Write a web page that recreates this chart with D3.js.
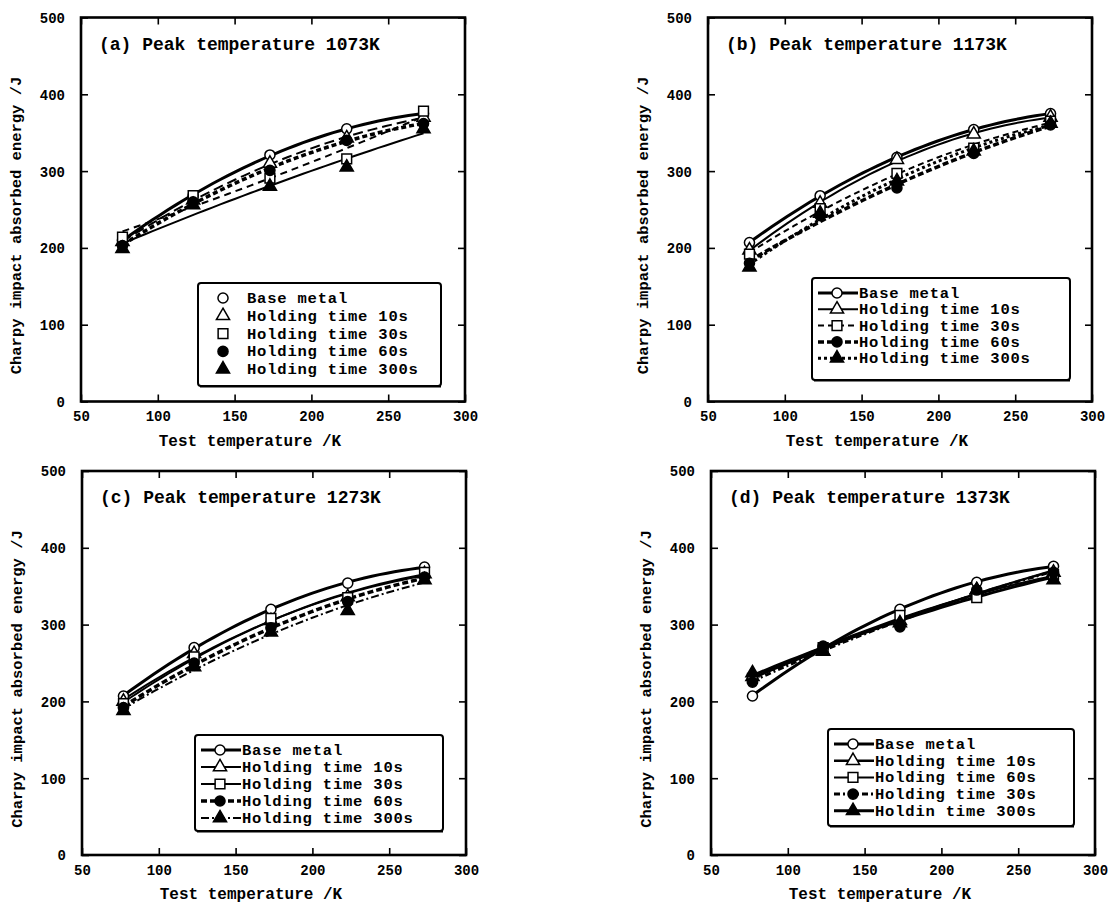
<!DOCTYPE html>
<html lang="en">
<head>
<meta charset="UTF-8">
<title>Charpy impact absorbed energy</title>
<style>
  body, html { margin: 0; padding: 0; background: #fff; }
  svg { display: block; }
  text { font-family: 'Liberation Mono', 'DejaVu Sans Mono', monospace; font-weight: bold; fill: #000; }
</style>
</head>
<body>
<svg id="svg" width="1109" height="904"></svg>
<script src="https://d3js.org/d3.v7.min.js"></script>
<script>
// ----- DATA -----
const testTemps = [77, 123, 173, 223, 273]
const xTicks = [50, 100, 150, 200, 250, 300]
const yTicks = [0, 100, 200, 300, 400, 500]

const titles = ['(a) Peak temperature 1073K', '(b) Peak temperature 1173K',
                '(c) Peak temperature 1273K', '(d) Peak temperature 1373K']

const labelsABC = ['Base metal', 'Holding time 10s', 'Holding time 30s', 'Holding time 60s', 'Holding time 300s']
const labelsD = ['Base metal', 'Holding time 10s', 'Holding time 60s', 'Holding time 30s', 'Holdin time 300s']

// values per series, in legend order
const valuesA = [
  [210, 268, 321, 355, 375],
  [208, 262, 310, 343, 370],
  [214, 268, 291, 316, 378],
  [203, 260, 301, 340, 362],
  [199, 256, 280, 305, 355]
]
const valuesB = [
  [207, 268, 318, 354, 375],
  [197, 258, 315, 348, 370],
  [192, 251, 297, 330, 365],
  [180, 242, 278, 323, 360],
  [175, 245, 287, 326, 362]
]
const valuesC = [
  [207, 270, 320, 354, 375],
  [200, 262, 305, 336, 366],
  [197, 258, 308, 335, 368],
  [192, 250, 296, 330, 362],
  [188, 245, 290, 318, 358]
]
const valuesD = [
  [207, 270, 320, 355, 376],
  [232, 265, 305, 345, 368],
  [230, 270, 312, 335, 365],
  [225, 272, 297, 345, 368],
  [237, 265, 302, 345, 358]
]

// ----- STYLES -----
const markerTypes = ['circle', 'triangle', 'square', 'dot', 'filledTriangle']
const lineStylesA = [
  {w: 3, dash: null}, {w: 2, dash: '10,5'}, {w: 2, dash: '7,5'}, {w: 3.5, dash: '5,3'}, {w: 2, dash: null}
]
const lineStylesB = [
  {w: 3, dash: null}, {w: 2, dash: null}, {w: 2, dash: '6,4'}, {w: 3.5, dash: '6,3'}, {w: 3, dash: '3,3'}
]
const lineStylesC = [
  {w: 3, dash: null}, {w: 2, dash: null}, {w: 2, dash: null}, {w: 3.5, dash: '6,3'}, {w: 2, dash: '8,3,2,3'}
]
const lineStylesD = [
  {w: 3, dash: null}, {w: 2.5, dash: null}, {w: 2, dash: null}, {w: 3, dash: '6,3,2,3'}, {w: 3, dash: null}
]

const panels = [
  {left: 81, top: 17.5, title: titles[0], labels: labelsABC, values: valuesA, styles: lineStylesA,
   legend: {x: 198, y: 283, w: 243, h: 103, row: 17.8, lines: false}},
  {left: 708, top: 17.5, title: titles[1], labels: labelsABC, values: valuesB, styles: lineStylesB,
   legend: {x: 812, y: 278, w: 258, h: 102, row: 16.3, lines: true}},
  {left: 82, top: 471, title: titles[2], labels: labelsABC, values: valuesC, styles: lineStylesC,
   legend: {x: 195, y: 735, w: 248, h: 96, row: 17, lines: true}},
  {left: 711, top: 471, title: titles[3], labels: labelsD, values: valuesD, styles: lineStylesD,
   legend: {x: 828, y: 729, w: 246, h: 97, row: 16.7, lines: true}}
]
const plotSize = 384

// quadratic least squares fit, x centred for stability
function quadFit(xs, ys) {
  const u = xs.map(x => (x - 175) / 100)
  let s0 = 0, s1 = 0, s2 = 0, s3 = 0, s4 = 0, t0 = 0, t1 = 0, t2 = 0
  u.forEach((x, i) => {
    const y = ys[i]
    s0 += 1; s1 += x; s2 += x * x; s3 += x ** 3; s4 += x ** 4
    t0 += y; t1 += x * y; t2 += x * x * y
  })
  const det3 = m => m[0][0] * (m[1][1] * m[2][2] - m[1][2] * m[2][1])
    - m[0][1] * (m[1][0] * m[2][2] - m[1][2] * m[2][0])
    + m[0][2] * (m[1][0] * m[2][1] - m[1][1] * m[2][0])
  const M = [[s0, s1, s2], [s1, s2, s3], [s2, s3, s4]]
  const T = [t0, t1, t2]
  const D = det3(M)
  const coef = [0, 1, 2].map(k => det3(M.map((row, r) => row.map((v, c) => c === k ? T[r] : v))) / D)
  return x => { const v = (x - 175) / 100; return coef[0] + coef[1] * v + coef[2] * v * v }
}

function markerPath(type) {
  if (type === 'circle' || type === 'dot') return d3.symbol().type(d3.symbolCircle).size(80)()
  if (type === 'square') return d3.symbol().type(d3.symbolSquare).size(95)()
  return d3.symbol().type(d3.symbolTriangle).size(75)()
}
const markerFill = type => (type === 'dot' || type === 'filledTriangle') ? '#000' : '#fff'

const svg = d3.select('#svg')

function drawPanel(p) {
  const x = d3.scaleLinear().domain([50, 300]).range([p.left, p.left + plotSize])
  const y = d3.scaleLinear().domain([0, 500]).range([p.top + plotSize, p.top])
  const g = svg.append('g')

  // axes with inward ticks
  const bottom = g.append('g').attr('transform', `translate(0, ${p.top + plotSize})`)
    .call(d3.axisBottom(x).tickValues(xTicks).tickSizeInner(-7).tickSizeOuter(0).tickPadding(10))
  const left = g.append('g').attr('transform', `translate(${p.left}, 0)`)
    .call(d3.axisLeft(y).tickValues(yTicks).tickSizeInner(-7).tickSizeOuter(0).tickPadding(16))
  g.append('g').attr('transform', `translate(0, ${p.top})`)
    .call(d3.axisTop(x).tickValues(xTicks).tickSizeInner(-7).tickSizeOuter(0).tickFormat(''))
  g.append('g').attr('transform', `translate(${p.left + plotSize}, 0)`)
    .call(d3.axisRight(y).tickValues(yTicks).tickSizeInner(-7).tickSizeOuter(0).tickFormat(''))
  g.selectAll('.domain').remove()
  g.selectAll('.tick line').attr('stroke', '#000').attr('stroke-width', 1.6)
  bottom.selectAll('text').style('font-size', '14px')
  left.selectAll('text').style('font-size', '14px').attr('dy', '0.35em')

  g.append('rect')
    .attr('x', p.left).attr('y', p.top)
    .attr('width', plotSize).attr('height', plotSize)
    .attr('fill', 'none').attr('stroke', '#000').attr('stroke-width', 2.6)

  // axis titles
  g.append('text')
    .attr('x', x(160)).attr('y', p.top + plotSize + 44)
    .attr('text-anchor', 'middle')
    .style('font-size', '16px')
    .text('Test temperature /K')
  g.append('text')
    .attr('transform', `translate(${p.left - 60}, ${p.top + 208}) rotate(-90)`)
    .attr('text-anchor', 'middle')
    .style('font-size', '15.5px')
    .text('Charpy impact absorbed energy /J')

  // panel title
  g.append('text')
    .attr('x', p.left + 18).attr('y', p.top + 32)
    .style('font-size', '18px')
    .text(p.title)

  // fitted curves
  const line = d3.line().x(d => x(d[0])).y(d => y(d[1]))
  const samples = d3.range(0, 41).map(i => testTemps[0] + i * (testTemps[4] - testTemps[0]) / 40)
  p.values.forEach((vals, i) => {
    const f = quadFit(testTemps, vals)
    g.append('path')
      .datum(samples.map(t => [t, f(t)]))
      .attr('d', line)
      .attr('fill', 'none')
      .attr('stroke', '#000')
      .attr('stroke-width', p.styles[i].w)
      .attr('stroke-dasharray', p.styles[i].dash)
  })

  // markers
  p.values.forEach((vals, i) => {
    g.selectAll(null)
      .data(vals)
      .enter()
      .append('path')
      .attr('d', markerPath(markerTypes[i]))
      .attr('transform', (d, k) => `translate(${x(testTemps[k])}, ${y(d)})`)
      .attr('fill', markerFill(markerTypes[i]))
      .attr('stroke', '#000')
      .attr('stroke-width', 1.5)
  })

  // legend
  const L = p.legend
  const lg = g.append('g')
  lg.append('rect')
    .attr('x', L.x).attr('y', L.y).attr('width', L.w).attr('height', L.h)
    .attr('rx', 3)
    .attr('fill', '#fff').attr('stroke', '#000').attr('stroke-width', 2)
  lg.append('line')
    .attr('x1', L.x + 2).attr('x2', L.x + L.w).attr('y1', L.y + L.h + 0.5).attr('y2', L.y + L.h + 0.5)
    .attr('stroke', '#000').attr('stroke-width', 2)
  p.labels.forEach((lab, i) => {
    const ry = L.y + 15 + i * L.row
    const mx = L.x + 25
    if (L.lines) {
      lg.append('line')
        .attr('x1', L.x + 6).attr('x2', L.x + 46)
        .attr('y1', ry).attr('y2', ry)
        .attr('stroke', '#000')
        .attr('stroke-width', p.styles[i].w)
        .attr('stroke-dasharray', p.styles[i].dash)
    }
    lg.append('path')
      .attr('d', markerPath(markerTypes[i]))
      .attr('transform', `translate(${mx}, ${ry})`)
      .attr('fill', markerFill(markerTypes[i]))
      .attr('stroke', '#000').attr('stroke-width', 1.5)
    lg.append('text')
      .attr('x', L.lines ? L.x + 47 : L.x + 49)
      .attr('y', ry + 5)
      .style('font-size', '15.5px')
      .style('letter-spacing', '0.8px')
      .text(lab)
  })
}

panels.forEach(drawPanel)
</script>
</body>
</html>
